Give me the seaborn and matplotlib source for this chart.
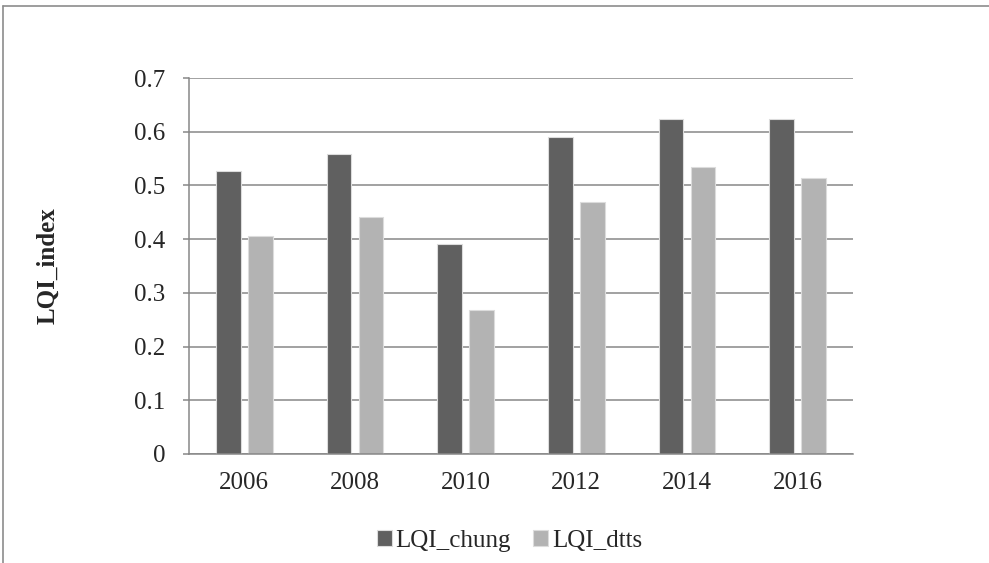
import numpy as np
import pandas as pd
import matplotlib
matplotlib.use("Agg")
import matplotlib.pyplot as plt
from matplotlib.lines import Line2D
import seaborn as sns

years = ["2006", "2008", "2010", "2012", "2014", "2016"]
lqi_chung = [0.526, 0.559, 0.391, 0.591, 0.624, 0.624]
lqi_dtts = [0.405, 0.441, 0.268, 0.469, 0.534, 0.513]
series = ["LQI_chung", "LQI_dtts"]
colors = ["#606060", "#b3b3b3"]
y_ticks = [0, 0.1, 0.2, 0.3, 0.4, 0.5, 0.6, 0.7]

df = pd.DataFrame({
    "year": years * 2,
    "value": lqi_chung + lqi_dtts,
    "series": [series[0]] * len(years) + [series[1]] * len(years),
})

sns.set_style("white")
plt.rcParams["font.family"] = ["Liberation Serif", "DejaVu Serif"]
grid_c = "#878787"
fs = 18

fig = plt.figure(figsize=(9.89, 5.63), dpi=100)
ax = fig.add_axes([189/989, 1-454/563, (853-189)/989, (454-78)/563])

sns.barplot(data=df, x="year", y="value", hue="series", hue_order=series,
            palette=colors, width=0.578, gap=0.22, edgecolor="#dcdcdc",
            linewidth=0.8, saturation=1, ax=ax)

ax.set_xlim(-0.5, len(years) - 0.5)
ax.set_ylim(0, 0.7)
ax.set_yticks(y_ticks)
ax.set_yticklabels(["0"] + [f"{t:.1f}" for t in y_ticks[1:]])
ax.set_axisbelow(True)
ax.yaxis.grid(True, color=grid_c, lw=1.1)
ax.xaxis.grid(False)
for s in ["top", "right"]:
    ax.spines[s].set_visible(False)
for s in ["left", "bottom"]:
    ax.spines[s].set_color(grid_c)
    ax.spines[s].set_linewidth(1.1)

ax.set_xticks(np.arange(-0.5, len(years)), minor=True)
ax.tick_params(axis="x", which="major", length=0, labelsize=fs, pad=13)
ax.tick_params(axis="x", which="minor", length=6, width=1.1, color=grid_c, direction="out")
ax.tick_params(axis="y", length=4, width=1.1, color=grid_c, labelsize=fs, pad=13, left=True)

ax.set_xlabel("")
ax.set_ylabel("LQI_index", fontsize=fs, fontweight="bold", labelpad=54)

ax.legend(loc="center", bbox_to_anchor=(0.5 + 15/989, (563-541)/563), bbox_transform=fig.transFigure,
          ncol=2, frameon=False, fontsize=fs, handlelength=0.6, handleheight=0.6,
          handletextpad=0.15, columnspacing=0.9)

# outer chart border (only top and left are in view)
top, left = 1 - 6/563, 3/989
fig.add_artist(Line2D([left, 1.0], [top, top], transform=fig.transFigure, color="#8c8c8c", lw=1.2))
fig.add_artist(Line2D([left, left], [0.0, top], transform=fig.transFigure, color="#8c8c8c", lw=1.2))

fig.savefig("out.png", dpi=100)
